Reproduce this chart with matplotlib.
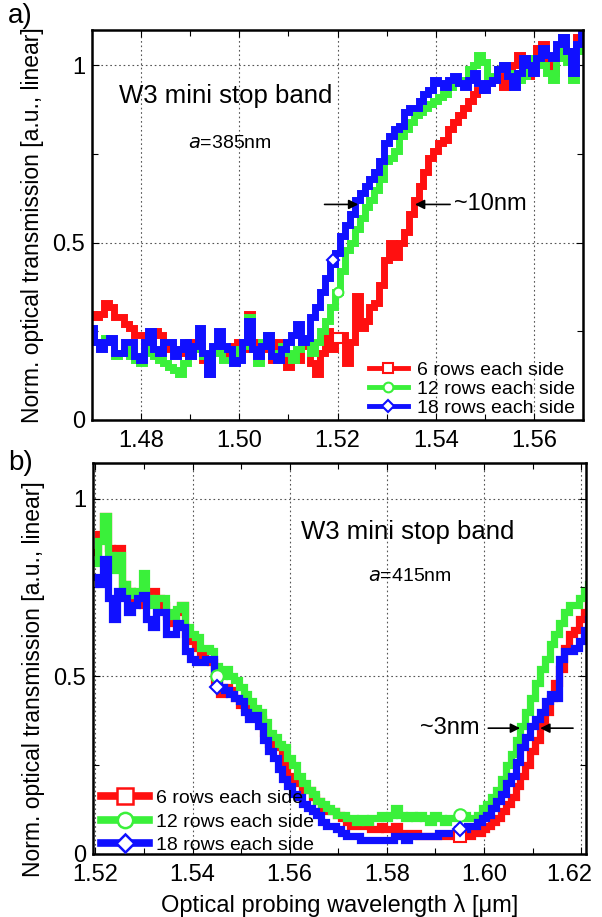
import numpy as np
import matplotlib
matplotlib.use("Agg")
import matplotlib.pyplot as plt
from matplotlib.lines import Line2D
from matplotlib.ticker import MultipleLocator, FixedLocator
from matplotlib.transforms import ScaledTranslation

plt.rcParams['font.family'] = ['Liberation Sans', 'DejaVu Sans']

# ---------------- Data: panel a (a = 385 nm), 1.470 ... 1.570 um ----------------
wl_a = np.linspace(1.470, 1.570, 101)
a_6rows = [0.30, 0.29, 0.30, 0.33, 0.32, 0.29, 0.29, 0.27, 0.26, 0.24,
           0.24, 0.21, 0.22, 0.25, 0.24, 0.20, 0.21, 0.20, 0.19, 0.21,
           0.22, 0.20, 0.21, 0.17, 0.13, 0.20, 0.21, 0.18, 0.19, 0.21,
           0.22, 0.20, 0.30, 0.22, 0.18, 0.21, 0.20, 0.17, 0.22, 0.19,
           0.15, 0.18, 0.17, 0.22, 0.21, 0.16, 0.13, 0.19, 0.25, 0.20,
           0.23, 0.24, 0.16, 0.22, 0.35, 0.26, 0.28, 0.32, 0.33, 0.38,
           0.45, 0.50, 0.46, 0.50, 0.53, 0.58, 0.62, 0.66, 0.70, 0.74,
           0.76, 0.78, 0.79, 0.82, 0.84, 0.86, 0.88, 0.90, 0.92, 0.93,
           0.94, 0.95, 0.96, 0.97, 0.94, 0.98, 1.00, 1.03, 1.02, 0.97,
           0.99, 1.05, 1.06, 1.00, 0.98, 1.04, 1.07, 1.02, 1.04, 1.08, 1.04]
a_12rows = [0.25, 0.22, 0.21, 0.23, 0.22, 0.18, 0.19, 0.20, 0.18, 0.17,
            0.16, 0.19, 0.20, 0.18, 0.17, 0.16, 0.15, 0.14, 0.13, 0.16,
            0.18, 0.20, 0.21, 0.18, 0.14, 0.19, 0.20, 0.17, 0.17, 0.20,
            0.18, 0.21, 0.29, 0.20, 0.16, 0.22, 0.24, 0.19, 0.18, 0.21,
            0.19, 0.17, 0.20, 0.22, 0.23, 0.19, 0.22, 0.25, 0.28, 0.32,
            0.36, 0.42, 0.48, 0.50, 0.54, 0.57, 0.60, 0.62, 0.65, 0.68,
            0.73, 0.74, 0.76, 0.80, 0.82, 0.84, 0.86, 0.87, 0.88, 0.89,
            0.90, 0.91, 0.92, 0.94, 0.95, 0.96, 0.96, 0.99, 1.00, 1.03,
            1.01, 0.97, 0.97, 0.99, 1.00, 0.98, 0.98, 0.96, 0.97, 1.00,
            1.02, 1.01, 1.00, 0.98, 0.96, 1.02, 1.08, 1.01, 0.96, 1.04, 1.05]
a_18rows = [0.26, 0.22, 0.20, 0.22, 0.23, 0.19, 0.19, 0.22, 0.22, 0.18,
            0.17, 0.22, 0.25, 0.20, 0.19, 0.22, 0.22, 0.18, 0.20, 0.22,
            0.18, 0.21, 0.26, 0.19, 0.13, 0.21, 0.25, 0.21, 0.20, 0.16,
            0.17, 0.22, 0.28, 0.20, 0.18, 0.21, 0.24, 0.18, 0.17, 0.20,
            0.22, 0.24, 0.27, 0.22, 0.23, 0.29, 0.32, 0.36, 0.40, 0.44,
            0.47, 0.52, 0.55, 0.58, 0.62, 0.64, 0.66, 0.68, 0.70, 0.73,
            0.78, 0.80, 0.82, 0.83, 0.87, 0.88, 0.88, 0.90, 0.92, 0.93,
            0.96, 0.95, 0.94, 0.96, 0.97, 0.95, 0.94, 0.96, 0.98, 0.95,
            0.93, 0.95, 0.96, 0.99, 1.00, 0.97, 0.94, 0.98, 1.02, 1.00,
            0.98, 1.02, 1.05, 1.03, 1.02, 1.06, 1.08, 1.04, 0.98, 1.06, 1.10]
# open marker points on panel a
a_mark_x = [1.520, 1.520, 1.519]
a_mark_y = [0.23, 0.36, 0.45]

# ---------------- Data: panel b (a = 415 nm), 1.520 ... 1.622 um ----------------
wl_b = np.linspace(1.520, 1.622, 103)
b_6rows = [0.85, 0.90, 0.95, 0.86, 0.84, 0.86, 0.76, 0.74, 0.72, 0.73,
           0.70, 0.71, 0.74, 0.72, 0.70, 0.67, 0.65, 0.68, 0.70, 0.62,
           0.60, 0.58, 0.56, 0.55, 0.54, 0.48, 0.45, 0.47, 0.46, 0.44,
           0.42, 0.41, 0.39, 0.40, 0.38, 0.34, 0.31, 0.30, 0.30, 0.26,
           0.22, 0.21, 0.20, 0.18, 0.18, 0.16, 0.15, 0.13, 0.12, 0.12,
           0.11, 0.10, 0.09, 0.08, 0.08, 0.08, 0.08, 0.07, 0.07, 0.08,
           0.07, 0.07, 0.08, 0.06, 0.06, 0.06, 0.06, 0.05, 0.05, 0.05,
           0.05, 0.05, 0.05, 0.05, 0.05, 0.05, 0.05, 0.05, 0.06, 0.06,
           0.07, 0.08, 0.09, 0.10, 0.12, 0.14, 0.16, 0.19, 0.22, 0.25,
           0.29, 0.32, 0.36, 0.40, 0.44, 0.48, 0.52, 0.58, 0.62, 0.63,
           0.66, 0.68, 0.70]
b_12rows = [0.82, 0.88, 0.95, 0.84, 0.80, 0.84, 0.76, 0.74, 0.73, 0.74,
            0.79, 0.72, 0.70, 0.72, 0.72, 0.68, 0.67, 0.69, 0.70, 0.64,
            0.62, 0.61, 0.58, 0.58, 0.57, 0.53, 0.50, 0.52, 0.50, 0.49,
            0.47, 0.45, 0.43, 0.41, 0.40, 0.37, 0.34, 0.33, 0.31, 0.30,
            0.27, 0.25, 0.22, 0.20, 0.18, 0.17, 0.15, 0.14, 0.13, 0.12,
            0.11, 0.11, 0.10, 0.10, 0.09, 0.10, 0.09, 0.10, 0.10, 0.11,
            0.10, 0.11, 0.13, 0.11, 0.10, 0.11, 0.10, 0.11, 0.10, 0.09,
            0.11, 0.10, 0.09, 0.10, 0.10, 0.11, 0.11, 0.10, 0.10, 0.11,
            0.13, 0.14, 0.16, 0.18, 0.21, 0.25, 0.28, 0.32, 0.36, 0.40,
            0.44, 0.48, 0.52, 0.55, 0.59, 0.62, 0.65, 0.68, 0.70, 0.70,
            0.72, 0.74, 0.76]
b_18rows = [0.78, 0.76, 0.83, 0.72, 0.66, 0.74, 0.72, 0.68, 0.70, 0.72,
            0.73, 0.66, 0.64, 0.68, 0.68, 0.62, 0.62, 0.65, 0.64, 0.57,
            0.55, 0.54, 0.54, 0.55, 0.55, 0.50, 0.47, 0.46, 0.45, 0.44,
            0.43, 0.40, 0.38, 0.39, 0.36, 0.32, 0.29, 0.27, 0.24, 0.21,
            0.19, 0.17, 0.16, 0.14, 0.13, 0.12, 0.11, 0.09, 0.08, 0.08,
            0.07, 0.06, 0.05, 0.05, 0.05, 0.04, 0.04, 0.04, 0.04, 0.04,
            0.04, 0.04, 0.05, 0.05, 0.04, 0.05, 0.05, 0.05, 0.05, 0.05,
            0.05, 0.06, 0.06, 0.06, 0.06, 0.07, 0.07, 0.08, 0.08, 0.09,
            0.10, 0.11, 0.13, 0.15, 0.17, 0.20, 0.22, 0.26, 0.30, 0.33,
            0.36, 0.38, 0.40, 0.43, 0.45, 0.44, 0.55, 0.57, 0.57, 0.58,
            0.60, 0.63, 0.66]
b_mark6_x, b_mark6_y = [1.595], [0.05]
b_mark12_x, b_mark12_y = [1.545, 1.595], [0.50, 0.11]
b_mark18_x, b_mark18_y = [1.545, 1.595], [0.47, 0.07]

labels = ["6 rows each side", "12 rows each side", "18 rows each side"]
colors = ["#ff1010", "#3af03a", "#1010ff"]
markers = ["s", "o", "D"]

fig = plt.figure(figsize=(6.02, 9.17), dpi=100)
W, H = 602.0, 917.0
ax_a = fig.add_axes([92 / W, 1 - 420 / H, (583 - 92) / W, (420 - 30) / H])
ax_b = fig.add_axes([93 / W, 1 - 854 / H, (586 - 93) / W, (854 - 463) / H])


def style_axes(ax, xlim, xmajor, label_y):
    ax.set_xlim(*xlim)
    ax.set_ylim(0, 1.1)
    ax.xaxis.set_major_locator(FixedLocator(xmajor))
    ax.xaxis.set_minor_locator(MultipleLocator(0.01))
    ax.yaxis.set_major_locator(FixedLocator([0, 0.5, 1]))
    ax.yaxis.set_minor_locator(FixedLocator([0.25, 0.75]))
    ax.set_yticklabels(["0", "0.5", "1"])
    ax.set_xticklabels(["%.2f" % v for v in xmajor])
    ax.tick_params(which="both", direction="in", top=True, right=True,
                   labelsize=17)
    ax.tick_params(axis="y", pad=5)
    ax.tick_params(axis="x", pad=7)
    ax.tick_params(which="major", length=5, width=0.8)
    ax.tick_params(which="minor", length=4, width=0.8)
    ax.grid(True, which="major", linestyle=(0, (1.5, 2.5)), color="#555555",
            linewidth=0.8)
    for s in ax.spines.values():
        s.set_linewidth(1.8)
    ax.set_ylabel("Norm. optical transmission [a.u., linear]", fontsize=16.5)
    ax.yaxis.set_label_coords(-0.097, label_y)


# ---- Panel a ----
for ys, c in zip([a_6rows, a_12rows, a_18rows], colors):
    ax_a.plot(wl_a, ys, color=c, lw=5.0, drawstyle="steps-mid",
              solid_joinstyle="miter")
for mx, my, c, m in zip(a_mark_x, a_mark_y, colors, markers):
    ax_a.plot([mx], [my], ls="none", marker=m, mfc="white", mec=c, mew=1.5,
              ms=7 if m != "D" else 6, zorder=5)
style_axes(ax_a, (1.47, 1.57), [1.48, 1.50, 1.52, 1.54, 1.56], 0.5)

ax_a.text(1.4755, 0.915, "W3 mini stop band", fontsize=18.5, va="center")
ax_a.text(1.4895, 0.78, r"$\it{a}$=385nm", fontsize=14, va="center")
ax_a.annotate("", xy=(1.5248, 0.608), xytext=(1.5168, 0.608),
              arrowprops=dict(arrowstyle="-|>", color="black", lw=1.2,
                              mutation_scale=14))
ax_a.annotate("", xy=(1.5352, 0.608), xytext=(1.5435, 0.608),
              arrowprops=dict(arrowstyle="-|>", color="black", lw=1.2,
                              mutation_scale=14))
ax_a.text(1.5437, 0.608, "~10nm", fontsize=17, va="center")

handles_a = [Line2D([0], [0], color=c, lw=3.5, marker=m, mfc="white", mec=c,
                    mew=1.5, ms=7 if m != "D" else 6)
             for c, m in zip(colors, markers)]
ax_a.legend(handles_a, labels, loc="lower right", frameon=False, fontsize=14,
            handlelength=2.0, handletextpad=0.5, labelspacing=0.08,
            borderaxespad=0.0, bbox_to_anchor=(1.0, -0.012))

# ---- Panel b ----
for ys, c in zip([b_6rows, b_12rows, b_18rows], colors):
    ax_b.plot(wl_b, ys, color=c, lw=5.2, drawstyle="steps-mid",
              solid_joinstyle="miter")
for (mxs, mys), c, m in zip([(b_mark6_x, b_mark6_y), (b_mark12_x, b_mark12_y),
                             (b_mark18_x, b_mark18_y)], colors, markers):
    ax_b.plot(mxs, mys, ls="none", marker=m, mfc="white", mec=c, mew=1.5,
              ms=9 if m != "D" else 7, zorder=5)
style_axes(ax_b, (1.5195, 1.621), [1.52, 1.54, 1.56, 1.58, 1.60, 1.62], 0.446)
last = ax_b.get_xticklabels()[-1]
last.set_transform(last.get_transform() +
                   ScaledTranslation(-12 / 100, 0, fig.dpi_scale_trans))

ax_b.text(1.5623, 0.905, "W3 mini stop band", fontsize=18.5, va="center")
ax_b.text(1.5762, 0.78, r"$\it{a}$=415nm", fontsize=14, va="center")
ax_b.annotate("", xy=(1.6080, 0.354), xytext=(1.6003, 0.354),
              arrowprops=dict(arrowstyle="-|>", color="black", lw=1.2,
                              mutation_scale=14))
ax_b.annotate("", xy=(1.6110, 0.354), xytext=(1.6189, 0.354),
              arrowprops=dict(arrowstyle="-|>", color="black", lw=1.2,
                              mutation_scale=14))
ax_b.text(1.5991, 0.354, "~3nm", fontsize=17, va="center", ha="right")

handles_b = [Line2D([0], [0], color=c, lw=5.5, marker=m, mfc="white", mec=c,
                    mew=1.8, ms=11 if m != "D" else 9)
             for c, m in zip(colors, markers)]
ax_b.legend(handles_b, labels, loc="lower left", frameon=False, fontsize=14,
            handlelength=2.5, handletextpad=0.36, labelspacing=0.3,
            borderaxespad=0.0, bbox_to_anchor=(0.0, -0.02))
ax_b.set_xlabel("Optical probing wavelength λ [μm]", fontsize=17, labelpad=6)

fig.text(8 / W, 1 - 16 / H, "a)", fontsize=20, va="center")
fig.text(8 / W, 1 - 463 / H, "b)", fontsize=20, va="center")

fig.savefig("out.png", dpi=100)
